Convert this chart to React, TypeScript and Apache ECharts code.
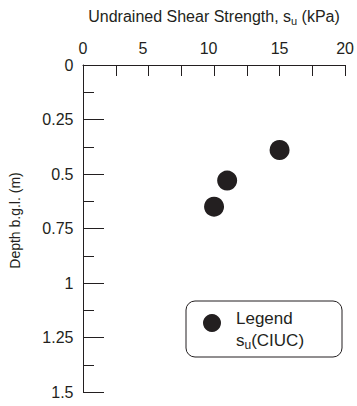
import React, { useEffect, useRef } from "react";
import * as echarts from "echarts";

const strength = [15.0, 11.0, 10.0];
const depth = [0.39, 0.53, 0.65];
const xTicks = [0, 5, 10, 15, 20];

const INK = "#231f20";
const FONT = "Liberation Sans, Arial, sans-serif";

export default function App() {
  const ref = useRef<HTMLDivElement>(null);
  useEffect(() => {
    if (!ref.current) return;
    const chart = echarts.init(ref.current, undefined, { renderer: "svg" });
    const data = strength.map((s, i) => [s, depth[i]]);
    chart.setOption({
      animation: false,
      textStyle: { fontFamily: FONT },
      grid: { left: 82, top: 65, width: 265, height: 327, containLabel: false },
      xAxis: {
        type: "value",
        position: "top",
        min: 0,
        max: 20,
        interval: 2.5,
        name: "Undrained Shear Strength, s{sub|u} (kPa)",
        nameLocation: "middle",
        nameGap: 39,
        nameTextStyle: {
          fontSize: 16,
          color: INK,
          fontFamily: FONT,
          rich: { sub: { fontSize: 11, padding: [8, 0, 0, 0], color: INK, fontFamily: FONT } },
        },
        axisLine: { show: true, lineStyle: { color: INK, width: 1 } },
        axisTick: { show: true, inside: true, length: 11, lineStyle: { color: INK, width: 1 } },
        axisLabel: {
          fontSize: 16,
          color: INK,
          fontFamily: FONT,
          margin: 9,
          formatter: (v: number) => {
            if (!xTicks.includes(v)) return "";
            if (v === 5 || v === 10) return "{l|" + v + "}";
            return "{n|" + v + "}";
          },
          rich: {
            l: { fontSize: 16, color: INK, fontFamily: FONT, padding: [0, 11, 0, 0] },
            n: { fontSize: 16, color: INK, fontFamily: FONT },
          },
        },
        splitLine: { show: false },
      },
      yAxis: {
        type: "value",
        inverse: true,
        min: 0,
        max: 1.5,
        interval: 0.25,
        name: "Depth b.g.l. (m)",
        nameLocation: "middle",
        nameGap: 61,
        nameTextStyle: { fontSize: 14, color: INK, fontFamily: FONT, padding: [0, 0, 0, 16] },
        axisLine: { show: true, lineStyle: { color: INK, width: 1 } },
        axisTick: { show: true, inside: true, length: 21, lineStyle: { color: INK, width: 1 } },
        minorTick: { show: true, splitNumber: 2, length: 11, lineStyle: { color: INK, width: 1 } },
        axisLabel: { fontSize: 16, color: INK, margin: 9.5 },
        splitLine: { show: false },
        minorSplitLine: { show: false },
      },
      series: [
        {
          type: "scatter",
          name: "su(CIUC)",
          data,
          symbol: "circle",
          symbolSize: 20,
          itemStyle: { color: INK, opacity: 1 },
        },
      ],
      graphic: [
        {
          type: "rect",
          shape: { x: 186, y: 301, width: 156, height: 56, r: 9 },
          style: { fill: "#fff", stroke: INK, lineWidth: 1 },
          z: 10,
        },
        {
          type: "circle",
          shape: { cx: 212, cy: 323, r: 9 },
          style: { fill: INK },
          z: 11,
        },
        {
          type: "text",
          x: 236,
          y: 310,
          style: { text: "Legend", fontSize: 17, fill: INK, fontFamily: FONT },
          z: 11,
        },
        {
          type: "text",
          x: 236,
          y: 330,
          style: {
            text: "s{sub|u}(CIUC)",
            fontSize: 17,
            fill: INK,
            fontFamily: FONT,
            rich: { sub: { fontSize: 12, padding: [9, 0, 0, 0], fill: INK, fontFamily: FONT } },
          },
          z: 11,
        },
      ],
    });
    return () => chart.dispose();
  }, []);
  return <div ref={ref} style={{ width: 357, height: 406, position: "absolute", left: 0, top: 0 }} />;
}
